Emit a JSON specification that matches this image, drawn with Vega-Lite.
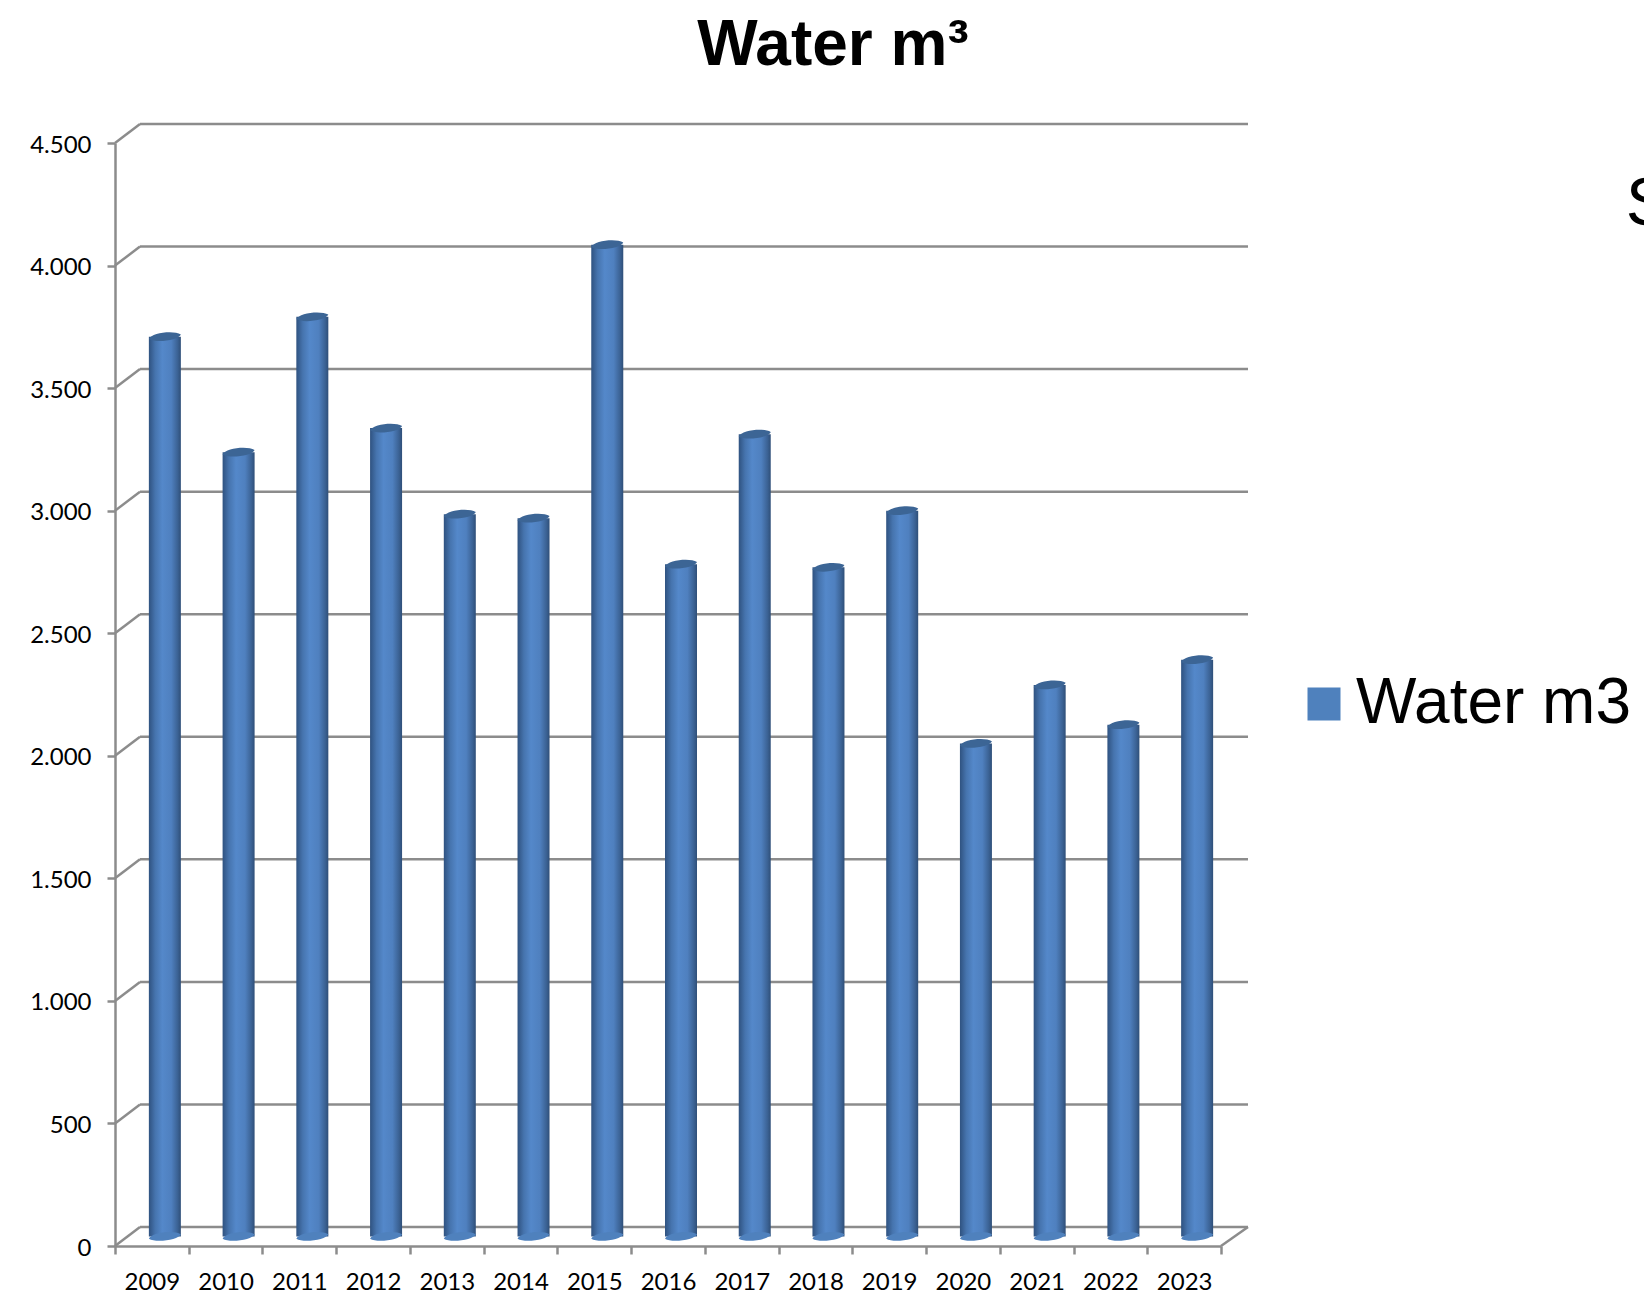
{
"$schema":"https://vega.github.io/schema/vega-lite/v6.json",
"width":1106,"height":1103,
"autosize":{"type":"none"},
"padding":{"left":115,"top":143,"right":423,"bottom":49},
"background":"white",
"title":{"text":"Water m³","anchor":"middle","frame":"group","dx":165,"offset":45,"font":"Liberation Sans","fontSize":64,"fontWeight":"bold","color":"#000000"},
"datasets":{
"water":[{"year":2009,"value":3671},{"year":2010,"value":3200},{"year":2011,"value":3752},{"year":2012,"value":3298},{"year":2013,"value":2947},{"year":2014,"value":2930},{"year":2015,"value":4046},{"year":2016,"value":2743},{"year":2017,"value":3273},{"year":2018,"value":2730},{"year":2019,"value":2961},{"year":2020,"value":2011},{"year":2021,"value":2250},{"year":2022,"value":2088},{"year":2023,"value":2353}],
"levels":[{"level":0},{"level":500},{"level":1000},{"level":1500},{"level":2000},{"level":2500},{"level":3000},{"level":3500},{"level":4000},{"level":4500}],
"stray":[{"year":2028.99,"value":4165,"label":"S"}]
},
"layer":[
{"data":{"name":"levels"},
 "mark":{"type":"rule","color":"#8c8c8c","strokeWidth":2.5,"xOffset":25,"x2Offset":27,"yOffset":-19},
 "encoding":{"x":{"datum":2008.5,"type":"quantitative",
   "scale":{"domain":[2008.5,2023.5],"nice":false,"zero":false,"padding":0},
   "axis":{"values":[2008.5,2009.5,2010.5,2011.5,2012.5,2013.5,2014.5,2015.5,2016.5,2017.5,2018.5,2019.5,2020.5,2021.5,2022.5,2023.5],"labelExpr":"datum.value > 2023 ? '' : format(datum.value + 0.5, 'd')","labelOffset":36.87,"tickSize":8,"labelPadding":16,"labelFlush":false,"labelOverlap":false,"title":null}},
  "x2":{"datum":2023.5},
  "y":{"field":"level","type":"quantitative",
   "scale":{"domain":[0,4500],"nice":false},
   "axis":{"values":[0,500,1000,1500,2000,2500,3000,3500,4000,4500],"labelExpr":"replace(format(datum.value, ','), ',', '.')","tickSize":8,"labelPadding":16,"labelOffset":2,"title":null}}}},
{"data":{"name":"levels"},
 "mark":{"type":"rule","color":"#8c8c8c","strokeWidth":2.5,"x2Offset":25,"y2Offset":-19},
 "encoding":{"x":{"datum":2008.5,"type":"quantitative"},"x2":{"datum":2008.5},"y":{"field":"level","type":"quantitative"},"y2":{"field":"level"}}},
{"data":{"name":"levels"},"transform":[{"filter":"datum.level === 0"}],
 "mark":{"type":"rule","color":"#8c8c8c","strokeWidth":2.5,"x2Offset":27,"y2Offset":-19},
 "encoding":{"x":{"datum":2023.5,"type":"quantitative"},"x2":{"datum":2023.5},"y":{"field":"level","type":"quantitative"},"y2":{"field":"level"}}},
{"data":{"name":"water"},
 "mark":{"type":"bar","width":32,"xOffset":13,"yOffset":-9.5,"y2Offset":-9.5,"fill":{"x1":0,"y1":0,"x2":1,"y2":0,"gradient":"linear","stops":[{"offset":0,"color":"#2f5280"},{"offset":0.2,"color":"#4674ae"},{"offset":0.42,"color":"#5488ca"},{"offset":0.7,"color":"#4f80bf"},{"offset":0.9,"color":"#3b6294"},{"offset":1,"color":"#2f4f78"}]}},
 "encoding":{"x":{"field":"year","type":"quantitative"},"y":{"field":"value","type":"quantitative"},"y2":{"datum":0}}},
{"data":{"name":"water"},
 "mark":{"type":"point","filled":true,"opacity":1,"size":1024,"xOffset":13,"yOffset":-9.5,"fill":"#3c6595","shape":"M-1,0.14 C-0.85,-0.25 0.55,-0.42 1,-0.14 C0.9,0.2 -0.55,0.42 -1,0.14 Z"},
 "encoding":{"x":{"field":"year","type":"quantitative"},"y":{"field":"value","type":"quantitative"}}},
{"data":{"name":"water"},
 "mark":{"type":"point","filled":true,"opacity":1,"size":1024,"xOffset":13,"yOffset":-9.5,"shape":"M-1,0.14 C-0.85,-0.25 0.55,-0.42 1,-0.14 C0.9,0.2 -0.55,0.42 -1,0.14 Z"},
 "encoding":{"x":{"field":"year","type":"quantitative"},"y":{"datum":0,"type":"quantitative"},
  "color":{"datum":"Water m3","type":"nominal","scale":{"domain":["Water m3"],"range":["#4F81BD"]},
   "legend":{"orient":"none","legendX":1177,"legendY":529,"title":null,"symbolType":"square","symbolSize":1089,"symbolStrokeWidth":0,"symbolOpacity":1,"labelFontSize":64,"labelFont":"Liberation Sans","labelColor":"#000000","labelLimit":400,"labelOffset":0,"padding":0}}}},
{"data":{"name":"stray"},
 "mark":{"type":"text","align":"left","baseline":"alphabetic","font":"Liberation Sans","fontSize":68,"color":"#000000"},
 "encoding":{"x":{"field":"year","type":"quantitative"},"y":{"field":"value","type":"quantitative"},"text":{"field":"label"}}}
],
"config":{"view":{"stroke":null},"axis":{"grid":false,"title":null,"domainColor":"#8c8c8c","tickColor":"#8c8c8c","domainWidth":2.5,"tickWidth":2.5,"labelColor":"#000000","labelFont":"Lato","labelFontSize":24}}
}
